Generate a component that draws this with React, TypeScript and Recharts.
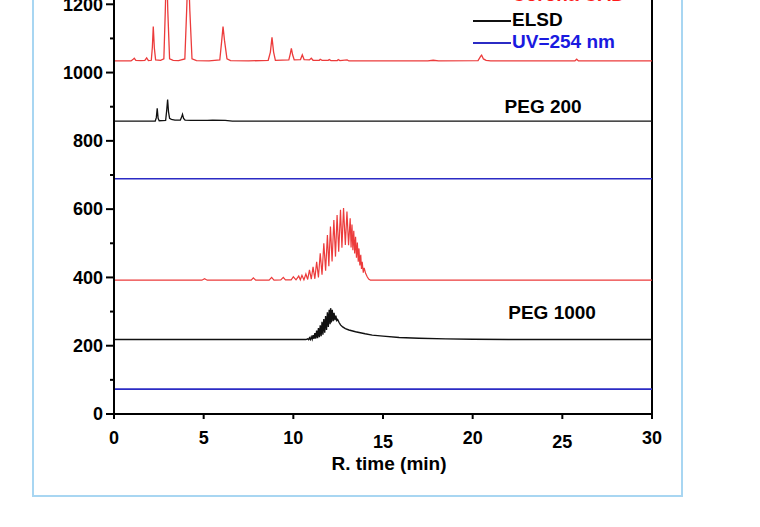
import { LineChart, Line, XAxis, YAxis, ReferenceLine, ReferenceDot } from 'recharts';

// retention time (min), detector signal
const cadPeg200: [number, number][] = [
  [0, 1034], [0.95, 1034], [1.05, 1038], [1.13, 1042], [1.22, 1036], [1.5, 1035], [1.72, 1036], [1.82, 1043],
  [1.92, 1035], [2.08, 1036], [2.14, 1075], [2.19, 1135], [2.25, 1072], [2.32, 1037], [2.6, 1036], [2.78, 1040],
  [2.86, 1180], [2.93, 1330], [3.0, 1180], [3.1, 1040], [3.3, 1036], [3.6, 1035], [3.95, 1040], [4.05, 1180],
  [4.14, 1320], [4.23, 1180], [4.35, 1040], [4.6, 1035], [5.3, 1034], [5.9, 1037], [6.0, 1090], [6.08, 1135],
  [6.16, 1095], [6.3, 1040], [6.5, 1035], [7.5, 1034], [8.6, 1036], [8.72, 1060], [8.81, 1103], [8.9, 1060],
  [9.0, 1036], [9.75, 1037], [9.83, 1055], [9.89, 1071], [9.96, 1052], [10.05, 1037], [10.4, 1038], [10.5, 1052],
  [10.6, 1038], [10.9, 1037], [11.0, 1042], [11.1, 1036], [11.45, 1036], [11.5, 1039], [11.6, 1036], [11.95, 1036],
  [12.0, 1038], [12.1, 1035], [12.45, 1035], [12.5, 1038], [12.6, 1035], [13.0, 1037], [13.1, 1034], [17.5, 1034],
  [17.8, 1036], [18.1, 1034], [20.3, 1035], [20.45, 1048], [20.5, 1051], [20.6, 1040], [20.75, 1036], [21, 1034],
  [25.7, 1034], [25.8, 1039], [25.9, 1034], [30, 1034],
];

const elsdPeg200: [number, number][] = [
  [0, 858], [2.3, 858], [2.36, 868], [2.41, 895], [2.46, 866], [2.52, 859], [2.88, 860], [2.94, 890],
  [2.99, 921], [3.04, 885], [3.1, 866], [3.2, 863], [3.4, 861], [3.7, 861], [3.76, 868], [3.82, 878],
  [3.88, 866], [3.96, 861], [4.3, 860], [5.2, 860], [5.5, 861], [6.2, 860], [6.6, 858], [30, 858],
];

const uvPeg200: [number, number][] = [[0, 689], [30, 689]];

// oligomer ladder of PEG 1000 on the CAD trace
const cadPeg1000: [number, number][] = [
  [0, 392], [4.9, 392], [5.05, 396], [5.2, 392], [7.65, 392], [7.77, 399], [7.9, 392], [8.65, 392],
  [8.79, 400], [8.92, 392], [9.3, 393], [9.44, 400], [9.56, 393], [9.88, 393], [10.0, 402], [10.15, 393],
  [10.3, 404], [10.39, 393], [10.48, 406], [10.59, 393], [10.7, 410], [10.8, 394], [10.9, 422], [11.0, 395],
  [11.1, 431], [11.2, 396], [11.3, 446], [11.4, 400], [11.5, 471], [11.6, 408], [11.7, 500], [11.8, 420],
  [11.9, 524], [11.98, 433], [12.07, 549], [12.16, 447], [12.26, 568], [12.35, 461], [12.44, 583], [12.53, 475],
  [12.63, 598], [12.71, 487], [12.8, 603], [12.9, 495], [12.99, 593], [13.08, 494], [13.17, 573], [13.22, 488],
  [13.27, 555], [13.32, 480], [13.37, 537], [13.42, 470], [13.47, 519], [13.52, 458], [13.57, 502], [13.62, 446],
  [13.66, 485], [13.71, 435], [13.76, 466], [13.8, 425], [13.84, 446], [13.9, 414], [13.95, 428], [14.03, 412],
  [14.12, 402], [14.2, 395], [14.3, 392], [30, 392],
];

const elsdPeg1000: [number, number][] = [
  [0, 218], [10.7, 218], [10.8, 220], [10.85, 218], [10.9, 223], [10.95, 218], [11.0, 226], [11.05, 219],
  [11.1, 231], [11.15, 220], [11.2, 237], [11.25, 221], [11.3, 244], [11.35, 222], [11.4, 252], [11.45, 225],
  [11.5, 260], [11.55, 228], [11.6, 270], [11.65, 232], [11.7, 278], [11.75, 238], [11.8, 287], [11.85, 246],
  [11.9, 298], [11.95, 255], [12.0, 305], [12.05, 263], [12.08, 310], [12.12, 268], [12.17, 305], [12.22, 272],
  [12.27, 296], [12.32, 275], [12.37, 288], [12.42, 274], [12.47, 277], [12.55, 268], [12.63, 261], [12.75, 255],
  [12.9, 250], [13.1, 246], [13.47, 241], [14.0, 235], [14.4, 231], [15.0, 228], [15.9, 224], [17.0, 222],
  [18.5, 220], [20.0, 219], [22.0, 218], [30, 218],
];

const uvPeg1000: [number, number][] = [[0, 73], [30, 73]];

const xTicks = [0, 5, 10, 15, 20, 25, 30];
const yTicks = [0, 100, 200, 300, 400, 500, 600, 700, 800, 900, 1000, 1100, 1200, 1300, 1400];

const legendItems = [
  { name: 'Corona CAD', color: '#ff1a1a', line: '#e83a3a', y: -5 },
  { name: 'ELSD', color: '#000000', line: '#111111', y: 20 },
  { name: 'UV=254 nm', color: '#1a1ae0', line: '#2b2bc4', y: 42 },
];

const RED = '#ec3b3b';
const BLACK = '#111111';
const BLUE = '#2b2bc4';
const FONT = "'Liberation Sans', Arial, sans-serif";

const toPoints = (rows: [number, number][]) => rows.map(([t, v]) => ({ t, v }));

const XTick = ({ x, y, payload }: any) => {
  // the 15 and 25 labels sit a little lower than the rest
  const drop = payload.value === 15 || payload.value === 25 ? 4 : 0;
  return (
    <g>
      <line x1={x} x2={x} y1={y} y2={y + 5} stroke="#000" strokeWidth={2} />
      <text x={x} y={y + 24 + drop} dy="0.35em" textAnchor="middle" fontSize={18} fontWeight="bold" fontFamily={FONT} fill="#000">
        {payload.value}
      </text>
    </g>
  );
};

const YTick = ({ x, y, payload }: any) => {
  const major = payload.value % 200 === 0;
  return (
    <g>
      <line x1={x} x2={x - (major ? 8 : 4)} y1={y} y2={y} stroke="#000" strokeWidth={2} />
      {major && (
        <text x={x - 11} y={y} dy="0.35em" textAnchor="end" fontSize={18} fontWeight="bold" fontFamily={FONT} fill="#000">
          {payload.value}
        </text>
      )}
    </g>
  );
};

export default function App() {
  const series = [
    { key: 'cad200', rows: cadPeg200, color: RED, w: 1.3 },
    { key: 'elsd200', rows: elsdPeg200, color: BLACK, w: 1.3 },
    { key: 'uv200', rows: uvPeg200, color: BLUE, w: 1.6 },
    { key: 'cad1000', rows: cadPeg1000, color: RED, w: 1.2 },
    { key: 'elsd1000', rows: elsdPeg1000, color: BLACK, w: 1.4 },
    { key: 'uv1000', rows: uvPeg1000, color: BLUE, w: 1.6 },
  ];

  return (
    <div style={{ position: 'absolute', left: 0, top: 0, width: 760, height: 527, overflow: 'hidden', background: '#fff' }}>
      <div
        style={{
          position: 'absolute', left: 32, top: -20, width: 651, height: 517,
          border: '2px solid #a8d6f2', boxSizing: 'border-box',
        }}
      />
      <div style={{ position: 'absolute', left: 0, top: -100 }}>
        <LineChart width={760} height={600} margin={{ top: 36, right: 108, left: 54, bottom: 0 }}>
          <XAxis
            dataKey="t"
            type="number"
            domain={[0, 30]}
            ticks={xTicks}
            allowDataOverflow
            height={86}
            tickSize={0}
            tickMargin={0}
            tickLine={false}
            axisLine={{ stroke: '#000', strokeWidth: 2 }}
            tick={<XTick />}
            label={{
              value: 'R. time (min)', position: 'insideBottom', offset: 30, dx: 6,
              fontSize: 19, fontWeight: 'bold', fontFamily: FONT, fill: '#000',
            }}
          />
          <YAxis
            type="number"
            domain={[0, 1400]}
            ticks={yTicks}
            allowDataOverflow
            width={60}
            tickSize={0}
            tickMargin={0}
            tickLine={false}
            axisLine={{ stroke: '#000', strokeWidth: 2 }}
            tick={<YTick />}
            interval={0}
          />
          <ReferenceLine x={30} stroke="#000" strokeWidth={2} />
          <ReferenceLine y={1400} stroke="#000" strokeWidth={2} />
          {series.map((s) => (
            <Line
              key={s.key}
              data={toPoints(s.rows)}
              dataKey="v"
              type="linear"
              stroke={s.color}
              strokeWidth={s.w}
              dot={false}
              activeDot={false}
              isAnimationActive={false}
            />
          ))}
          <ReferenceDot
            x={23.93}
            y={902}
            r={0}
            stroke="none"
            label={{ value: 'PEG 200', position: 'center', fontSize: 19, fontWeight: 'bold', fontFamily: FONT, fill: '#000' }}
          />
          <ReferenceDot
            x={24.43}
            y={297}
            r={0}
            stroke="none"
            label={{ value: 'PEG 1000', position: 'center', fontSize: 19, fontWeight: 'bold', fontFamily: FONT, fill: '#000' }}
          />
        </LineChart>
      </div>
      {legendItems.map((item) => (
        <div key={item.name}>
          <div style={{ position: 'absolute', left: 473, top: item.y, width: 38, height: 2, background: item.line }} />
          <span
            style={{
              position: 'absolute', left: 512, top: item.y - 11, fontSize: 19, lineHeight: '22px',
              fontWeight: 'bold', fontFamily: FONT, color: item.color, whiteSpace: 'nowrap',
            }}
          >
            {item.name}
          </span>
        </div>
      ))}
    </div>
  );
}
